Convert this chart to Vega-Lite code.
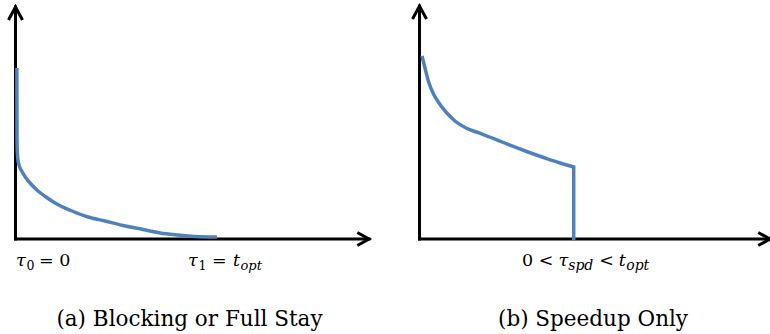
{
  "$schema": "https://vega.github.io/schema/vega-lite/v6.json",
  "padding": 0,
  "spacing": 0,
  "bounds": "flush",
  "config": {
    "view": {"stroke": null},
    "title": {"font": "DejaVu Serif", "fontSize": 21.5, "fontWeight": "normal", "color": "black"},
    "text": {"font": "DejaVu Serif", "color": "black", "align": "left", "baseline": "alphabetic"}
  },
  "datasets": {
    "curve_a": [
      {"i": 0, "x": 0.0068, "y": 0.7246},
      {"i": 1, "x": 0.0070, "y": 0.5763},
      {"i": 2, "x": 0.0073, "y": 0.4492},
      {"i": 3, "x": 0.0082, "y": 0.3856},
      {"i": 4, "x": 0.0110, "y": 0.3432},
      {"i": 5, "x": 0.0173, "y": 0.3136},
      {"i": 6, "x": 0.0307, "y": 0.2881},
      {"i": 7, "x": 0.052, "y": 0.2585},
      {"i": 8, "x": 0.0767, "y": 0.2331},
      {"i": 9, "x": 0.1114, "y": 0.2034},
      {"i": 10, "x": 0.151, "y": 0.178},
      {"i": 11, "x": 0.1955, "y": 0.1525},
      {"i": 12, "x": 0.2797, "y": 0.1186},
      {"i": 13, "x": 0.3589, "y": 0.0932},
      {"i": 14, "x": 0.4431, "y": 0.0763},
      {"i": 15, "x": 0.5322, "y": 0.0572},
      {"i": 16, "x": 0.6312, "y": 0.0402},
      {"i": 17, "x": 0.7153, "y": 0.0254},
      {"i": 18, "x": 0.7995, "y": 0.0169},
      {"i": 19, "x": 0.8886, "y": 0.0106},
      {"i": 20, "x": 0.9975, "y": 0.0085}
    ],
    "curve_b": [
      {"i": 0, "x": 0.0124, "y": 0.7754},
      {"i": 1, "x": 0.0272, "y": 0.7246},
      {"i": 2, "x": 0.047, "y": 0.661},
      {"i": 3, "x": 0.0718, "y": 0.6102},
      {"i": 4, "x": 0.0965, "y": 0.5763},
      {"i": 5, "x": 0.1312, "y": 0.5381},
      {"i": 6, "x": 0.1757, "y": 0.5},
      {"i": 7, "x": 0.2302, "y": 0.4703},
      {"i": 8, "x": 0.2946, "y": 0.4492},
      {"i": 9, "x": 0.3738, "y": 0.4237},
      {"i": 10, "x": 0.4579, "y": 0.3941},
      {"i": 11, "x": 0.5371, "y": 0.3686},
      {"i": 12, "x": 0.6213, "y": 0.3432},
      {"i": 13, "x": 0.6955, "y": 0.322},
      {"i": 14, "x": 0.7634, "y": 0.3051}
    ],
    "drop_b": [
      {"x": 0.7634, "y": 0.3051, "x2": 0.7634, "y2": 0}
    ],
    "axes_a": [
      {"x": 0, "y": 0, "x2": 0, "y2": 0.983},
      {"x": 0, "y": 0, "x2": 1.75, "y2": 0}
    ],
    "axes_b": [
      {"x": 0, "y": 0, "x2": 0, "y2": 0.987},
      {"x": 0, "y": 0, "x2": 1.735, "y2": 0}
    ],
    "tips_a": [
      {"x": 0, "y": 0.983, "dir": "up"},
      {"x": 1.75, "y": 0, "dir": "right"}
    ],
    "tips_b": [
      {"x": 0, "y": 0.987, "dir": "up"},
      {"x": 1.735, "y": 0, "dir": "right"}
    ],
    "labels_a": [
      {"x": 0, "y": 0, "part": "tau0", "t": "τ"},
      {"x": 0, "y": 0, "part": "sub0", "t": "0"},
      {"x": 0, "y": 0, "part": "eq0", "t": "= 0"},
      {"x": 1, "y": 0, "part": "tau1", "t": "τ"},
      {"x": 1, "y": 0, "part": "sub1", "t": "1"},
      {"x": 1, "y": 0, "part": "eq1", "t": "="},
      {"x": 1, "y": 0, "part": "t1", "t": "t"},
      {"x": 1, "y": 0, "part": "opt1", "t": "opt"}
    ],
    "labels_b": [
      {"x": 0.7634, "y": 0, "part": "lt0", "t": "0 <"},
      {"x": 0.7634, "y": 0, "part": "tau", "t": "τ"},
      {"x": 0.7634, "y": 0, "part": "spd", "t": "spd"},
      {"x": 0.7634, "y": 0, "part": "lt1", "t": "<"},
      {"x": 0.7634, "y": 0, "part": "t", "t": "t"},
      {"x": 0.7634, "y": 0, "part": "opt", "t": "opt"}
    ]
  },
  "hconcat": [
    {
      "width": 385,
      "height": 236,
      "title": {"text": "(a) Blocking or Full Stay", "orient": "bottom", "offset": 36, "baseline": "top", "frame": "group", "anchor": "middle", "dx": -3},
      "encoding": {
        "x": {"field": "x", "type": "quantitative", "scale": {"domain": [-0.0767, 1.829], "nice": false, "zero": false}, "axis": null},
        "y": {"field": "y", "type": "quantitative", "scale": {"domain": [0, 1], "nice": false, "zero": false}, "axis": null}
      },
      "layer": [
        {"data": {"name": "axes_a"}, "mark": {"type": "rule", "color": "black", "strokeWidth": 3, "strokeCap": "square"}, "encoding": {"x2": {"field": "x2"}, "y2": {"field": "y2"}}},
        {"data": {"name": "curve_a"}, "mark": {"type": "line", "color": "#4f81bd", "strokeWidth": 3.5, "interpolate": "monotone"}, "encoding": {"order": {"field": "i", "type": "quantitative"}}},
        {"data": {"name": "tips_a"}, "transform": [{"filter": "datum.dir === 'up'"}], "mark": {"type": "point", "shape": "M -1 1.85 L 0 0 L 1 1.85", "size": 196, "filled": false, "color": "black", "stroke": "black", "strokeWidth": 3, "opacity": 1}},
        {"data": {"name": "tips_a"}, "transform": [{"filter": "datum.dir === 'right'"}], "mark": {"type": "point", "shape": "M -1.8 -1 L 0 0 L -1.8 1", "size": 169, "filled": false, "color": "black", "stroke": "black", "strokeWidth": 3, "opacity": 1}},
        {"data": {"name": "labels_a"}, "transform": [{"filter": "datum.part === 'tau0'"}], "mark": {"type": "text", "fontSize": 17.5, "fontStyle": "italic", "dx": 0.5, "dy": 27}, "encoding": {"text": {"field": "t"}}},
        {"data": {"name": "labels_a"}, "transform": [{"filter": "datum.part === 'sub0'"}], "mark": {"type": "text", "fontSize": 12.5, "dx": 11, "dy": 31}, "encoding": {"text": {"field": "t"}}},
        {"data": {"name": "labels_a"}, "transform": [{"filter": "datum.part === 'eq0'"}], "mark": {"type": "text", "fontSize": 17.5, "dx": 23.5, "dy": 27}, "encoding": {"text": {"field": "t"}}},
        {"data": {"name": "labels_a"}, "transform": [{"filter": "datum.part === 'tau1'"}], "mark": {"type": "text", "fontSize": 17.5, "fontStyle": "italic", "dx": -29.5, "dy": 27}, "encoding": {"text": {"field": "t"}}},
        {"data": {"name": "labels_a"}, "transform": [{"filter": "datum.part === 'sub1'"}], "mark": {"type": "text", "fontSize": 12.5, "dx": -19, "dy": 31}, "encoding": {"text": {"field": "t"}}},
        {"data": {"name": "labels_a"}, "transform": [{"filter": "datum.part === 'eq1'"}], "mark": {"type": "text", "fontSize": 17.5, "dx": -5.5, "dy": 27}, "encoding": {"text": {"field": "t"}}},
        {"data": {"name": "labels_a"}, "transform": [{"filter": "datum.part === 't1'"}], "mark": {"type": "text", "fontSize": 17.5, "fontStyle": "italic", "dx": 15.5, "dy": 27}, "encoding": {"text": {"field": "t"}}},
        {"data": {"name": "labels_a"}, "transform": [{"filter": "datum.part === 'opt1'"}], "mark": {"type": "text", "fontSize": 13, "fontStyle": "italic", "dx": 23, "dy": 31}, "encoding": {"text": {"field": "t"}}}
      ]
    },
    {
      "width": 386,
      "height": 236,
      "title": {"text": "(b) Speedup Only", "orient": "bottom", "offset": 36, "baseline": "top", "frame": "group", "anchor": "middle", "dx": 15},
      "encoding": {
        "x": {"field": "x", "type": "quantitative", "scale": {"domain": [-0.1708, 1.7402], "nice": false, "zero": false}, "axis": null},
        "y": {"field": "y", "type": "quantitative", "scale": {"domain": [0, 1], "nice": false, "zero": false}, "axis": null}
      },
      "layer": [
        {"data": {"name": "axes_b"}, "mark": {"type": "rule", "color": "black", "strokeWidth": 3, "strokeCap": "square"}, "encoding": {"x2": {"field": "x2"}, "y2": {"field": "y2"}}},
        {"data": {"name": "curve_b"}, "mark": {"type": "line", "color": "#4f81bd", "strokeWidth": 3.5, "interpolate": "monotone"}, "encoding": {"order": {"field": "i", "type": "quantitative"}}},
        {"data": {"name": "drop_b"}, "mark": {"type": "rule", "color": "#4f81bd", "strokeWidth": 3.5, "strokeCap": "square"}, "encoding": {"x2": {"field": "x2"}, "y2": {"field": "y2"}}},
        {"data": {"name": "tips_b"}, "transform": [{"filter": "datum.dir === 'up'"}], "mark": {"type": "point", "shape": "M -1 1.85 L 0 0 L 1 1.85", "size": 196, "filled": false, "color": "black", "stroke": "black", "strokeWidth": 3, "opacity": 1}},
        {"data": {"name": "tips_b"}, "transform": [{"filter": "datum.dir === 'right'"}], "mark": {"type": "point", "shape": "M -1.8 -1 L 0 0 L -1.8 1", "size": 169, "filled": false, "color": "black", "stroke": "black", "strokeWidth": 3, "opacity": 1}},
        {"data": {"name": "labels_b"}, "transform": [{"filter": "datum.part === 'lt0'"}], "mark": {"type": "text", "fontSize": 17.5, "dx": -51.7, "dy": 27}, "encoding": {"text": {"field": "t"}}},
        {"data": {"name": "labels_b"}, "transform": [{"filter": "datum.part === 'tau'"}], "mark": {"type": "text", "fontSize": 17.5, "fontStyle": "italic", "dx": -15.2, "dy": 27}, "encoding": {"text": {"field": "t"}}},
        {"data": {"name": "labels_b"}, "transform": [{"filter": "datum.part === 'spd'"}], "mark": {"type": "text", "fontSize": 14, "fontStyle": "italic", "dx": -5.5, "dy": 31}, "encoding": {"text": {"field": "t"}}},
        {"data": {"name": "labels_b"}, "transform": [{"filter": "datum.part === 'lt1'"}], "mark": {"type": "text", "fontSize": 17.5, "dx": 25.5, "dy": 27}, "encoding": {"text": {"field": "t"}}},
        {"data": {"name": "labels_b"}, "transform": [{"filter": "datum.part === 't'"}], "mark": {"type": "text", "fontSize": 17.5, "fontStyle": "italic", "dx": 45, "dy": 27}, "encoding": {"text": {"field": "t"}}},
        {"data": {"name": "labels_b"}, "transform": [{"filter": "datum.part === 'opt'"}], "mark": {"type": "text", "fontSize": 14, "fontStyle": "italic", "dx": 52.5, "dy": 31}, "encoding": {"text": {"field": "t"}}}
      ]
    }
  ]
}
